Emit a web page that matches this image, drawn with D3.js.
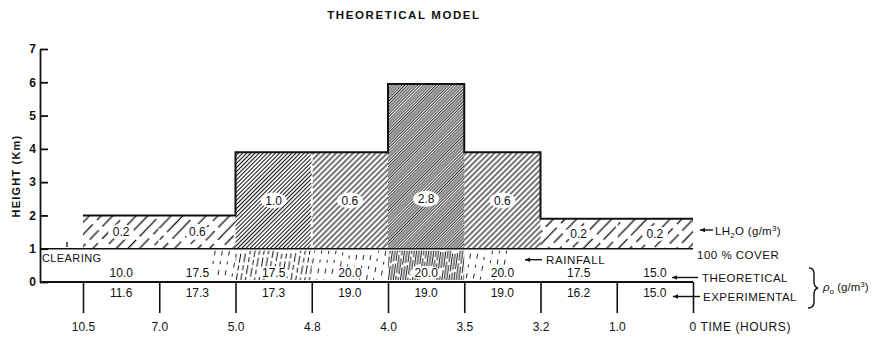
<!DOCTYPE html>
<html>
<head>
<meta charset="utf-8">
<script src="https://cdn.jsdelivr.net/npm/d3@7"></script>
<style>
  body { margin: 0; background: #fff; }
  text { font-family: "Liberation Sans", Arial, sans-serif; fill: #111; }
</style>
</head>
<body>
<div id="chart"></div>
<script>
// time axis (hours) and the 8 intervals between the ticks
const timeLabels = ["10.5", "7.0", "5.0", "4.8", "4.0", "3.5", "3.2", "1.0", "0"];
const cloudBase = 1;
const cloudTop = [2.0, 2.0, 3.9, 3.9, 5.95, 3.9, 1.9, 1.9];
const lh2o = [0.2, 0.6, 1.0, 0.6, 2.8, 0.6, 0.2, 0.2];
const rhoTheoretical = [10.0, 17.5, 17.5, 20.0, 20.0, 20.0, 17.5, 15.0];
const rhoExperimental = [11.6, 17.3, 17.3, 19.0, 19.0, 19.0, 16.2, 15.0];
// rainfall under the cloud: part of each interval covered, and how heavy
const rainFrom = [0, 0.65, 0, 0, 0, 0, 0, 0];
const rainTo = [0, 1, 1, 1, 1, 0.6, 0, 0];
const rainLevel = [0, 1, 2, 1, 3, 1, 0, 0];
const heightTicks = [0, 1, 2, 3, 4, 5, 6, 7];

const width = 879, height = 341;
const fmt = d3.format(".1f");

const svg = d3.select("#chart").append("svg")
    .attr("width", width)
    .attr("height", height);

const xScale = d3.scalePoint().domain(timeLabels).range([83, 693]);
const yScale = d3.scaleLinear().domain([0, 7]).range([282, 49]);

// hatch patterns: a few parallel lines per tile, dashes offset so gaps don't line up
const defs = svg.append("defs");
function hatch(id, spacing, angle, strokeW, dash, color) {
    const n = 5, tileH = 80;
    let p = defs.append("pattern")
        .attr("id", id)
        .attr("patternUnits", "userSpaceOnUse")
        .attr("width", spacing * n)
        .attr("height", tileH)
        .attr("patternTransform", `rotate(${angle})`);
    const offsets = [0, 31, 12, 53, 22];
    for (let k = 0; k < n; k++) {
        p.append("line")
            .attr("x1", spacing * (k + 0.5)).attr("x2", spacing * (k + 0.5))
            .attr("y1", 0).attr("y2", tileH)
            .style("stroke", color || "#111")
            .style("stroke-width", strokeW)
            .style("stroke-dasharray", dash || null)
            .style("stroke-dashoffset", offsets[k]);
    }
}
hatch("hSparse", 8.4, 44, 1.3, "24 5 13 6 26 6");
hatch("hMedium", 4.0, 45, 1.15);
hatch("hDense", 2.9, 45, 1.05);
hatch("hDark", 2.2, 45, 1.05, null, "#222");
hatch("rain1", 7, 10, 0.9, "5 6 3 6");
hatch("rain2", 4.5, 10, 1.0, "9 3 5 3");
hatch("rain3", 2.4, 8, 1.0, "16 3 18 3");

function cloudPattern(i) {
    if (cloudTop[i] < 3) return "url(#hSparse)";
    if (lh2o[i] >= 2) return "url(#hDark)";
    if (lh2o[i] >= 1) return "url(#hDense)";
    return "url(#hMedium)";
}

const segments = d3.range(cloudTop.length).map(i => ({
    i: i,
    x0: xScale(timeLabels[i]),
    x1: xScale(timeLabels[i + 1])
}));

// rainfall hatching (0 - 1 km)
svg.append("g").selectAll("rect")
    .data(segments.filter(d => rainLevel[d.i] > 0))
    .join("rect")
    .attr("x", d => d.x0 + (d.x1 - d.x0) * rainFrom[d.i])
    .attr("width", d => (d.x1 - d.x0) * (rainTo[d.i] - rainFrom[d.i]))
    .attr("y", yScale(cloudBase) + 2)
    .attr("height", yScale(0) - yScale(cloudBase) - 4)
    .style("fill", d => `url(#rain${rainLevel[d.i]})`);

// cloud columns
svg.append("g").selectAll("rect")
    .data(segments)
    .join("rect")
    .attr("x", d => d.x0)
    .attr("width", d => d.x1 - d.x0)
    .attr("y", d => yScale(cloudTop[d.i]))
    .attr("height", d => yScale(cloudBase) - yScale(cloudTop[d.i]))
    .style("fill", d => cloudPattern(d.i));

// white dashed seams where neighbouring columns have the same top
svg.append("g").selectAll("line")
    .data(segments.slice(1).filter(d => cloudTop[d.i] === cloudTop[d.i - 1]))
    .join("line")
    .attr("x1", d => d.x0).attr("x2", d => d.x0)
    .attr("y1", d => yScale(cloudTop[d.i]) + 2)
    .attr("y2", yScale(cloudBase) - 2)
    .style("stroke", "#fff")
    .style("stroke-width", 2)
    .style("stroke-dasharray", "7 4");

// cloud top outline
const profile = segments.map(d => [d.x0, yScale(cloudTop[d.i])]);
profile.push([xScale(timeLabels[timeLabels.length - 1]), yScale(cloudTop[cloudTop.length - 1])]);
svg.append("path")
    .attr("d", d3.line().curve(d3.curveStepAfter)(profile))
    .style("fill", "none")
    .style("stroke", "#111")
    .style("stroke-width", 2);

// cloud base (100 % cover)
svg.append("line")
    .attr("x1", 40).attr("x2", xScale("0"))
    .attr("y1", yScale(cloudBase)).attr("y2", yScale(cloudBase))
    .style("stroke", "#111").style("stroke-width", 1.6);

// LH2O labels
const lab = svg.append("g").selectAll("g")
    .data(segments)
    .join("g")
    .attr("transform", d => `translate(${(d.x0 + d.x1) / 2},${yScale((cloudBase + Math.min(cloudTop[d.i], 4)) / 2)})`);
lab.append("ellipse").attr("rx", 13).attr("ry", 8).style("fill", "#fff");
lab.append("text")
    .attr("text-anchor", "middle")
    .attr("dy", "0.36em")
    .style("font-size", "12px")
    .text(d => fmt(lh2o[d.i]));

// theoretical density row
const th = svg.append("g").selectAll("g")
    .data(segments)
    .join("g")
    .attr("transform", d => `translate(${(d.x0 + d.x1) / 2},${yScale(0) - 9})`);
th.append("ellipse").attr("rx", 16).attr("ry", 7).style("fill", "#fff");
th.append("text")
    .attr("text-anchor", "middle")
    .attr("dy", "0.36em")
    .style("font-size", "12px")
    .text(d => fmt(rhoTheoretical[d.i]));

// experimental density row
svg.append("g").selectAll("text")
    .data(segments)
    .join("text")
    .attr("x", d => (d.x0 + d.x1) / 2)
    .attr("y", yScale(0) + 11)
    .attr("text-anchor", "middle")
    .attr("dy", "0.36em")
    .style("font-size", "12px")
    .text(d => fmt(rhoExperimental[d.i]));

// y axis
const yAxis = d3.axisLeft(yScale)
    .tickValues(heightTicks)
    .tickFormat(d3.format("d"))
    .tickSize(-8)
    .tickSizeOuter(0)
    .tickPadding(4);
const gy = svg.append("g").attr("transform", "translate(40,0)").call(yAxis);
gy.selectAll("path, line").style("stroke", "#111").style("stroke-width", 1.8);
gy.selectAll("text").style("font-size", "12px").style("font-weight", "bold")
    .style("font-family", "Liberation Sans, Arial, sans-serif").style("fill", "#111");

// x axis
svg.append("line")
    .attr("x1", 40).attr("x2", xScale("0"))
    .attr("y1", yScale(0)).attr("y2", yScale(0))
    .style("stroke", "#111").style("stroke-width", 2);
const xAxis = d3.axisBottom(xScale).tickSize(31).tickPadding(9);
const gx = svg.append("g").attr("transform", `translate(0,${yScale(0)})`).call(xAxis);
gx.select(".domain").remove();
gx.selectAll("line").style("stroke", "#111").style("stroke-width", 1.6);
gx.selectAll("text").style("font-size", "12px")
    .style("font-family", "Liberation Sans, Arial, sans-serif").style("fill", "#111");
gx.selectAll(".tick").filter(d => d === "0").select("text")
    .attr("text-anchor", "start").attr("x", -4)
    .style("letter-spacing", "0.6px")
    .text("0  TIME (HOURS)");

// titles
svg.append("text")
    .attr("x", 404).attr("y", 19)
    .attr("text-anchor", "middle")
    .style("font-size", "11.5px").style("font-weight", "bold")
    .style("letter-spacing", "1.6px")
    .text("THEORETICAL MODEL");

svg.append("text")
    .attr("transform", "translate(20,176) rotate(-90)")
    .attr("text-anchor", "middle")
    .style("font-size", "11px").style("font-weight", "bold")
    .style("letter-spacing", "1.2px")
    .text("HEIGHT (Km)");

// annotations
function arrow(x1, x2, y) {
    svg.append("line").attr("x1", x1).attr("x2", x2).attr("y1", y).attr("y2", y)
        .style("stroke", "#111").style("stroke-width", 1.4);
    svg.append("path")
        .attr("d", `M${x1},${y} l5,-2.2 l0,4.4 z`)
        .style("fill", "#111");
}

svg.append("text").attr("x", 42).attr("y", 262)
    .style("font-size", "11px").style("letter-spacing", "0.4px").text("CLEARING");
svg.append("line").attr("x1", 67).attr("x2", 67).attr("y1", 242).attr("y2", 247)
    .style("stroke", "#111").style("stroke-width", 1.3);

arrow(525, 542, yScale(0.67));
svg.append("text").attr("x", 546).attr("y", yScale(0.67) + 4.5)
    .style("font-size", "11.5px").style("letter-spacing", "0.6px").text("RAINFALL");

const rx = xScale("0");
arrow(rx + 7, rx + 20, 230);
const lhText = svg.append("text").attr("x", rx + 22).attr("y", 234.5)
    .style("font-size", "11.5px").style("letter-spacing", "0.3px");
lhText.append("tspan").text("LH");
lhText.append("tspan").attr("dy", 3).style("font-size", "8px").text("2");
lhText.append("tspan").attr("dy", -3).text("O (g/m");
lhText.append("tspan").attr("dy", -4).style("font-size", "8px").text("3");
lhText.append("tspan").attr("dy", 4).text(")");

svg.append("text").attr("x", rx + 4).attr("y", 258.5)
    .style("font-size", "11.5px").style("letter-spacing", "0.5px").text("100 % COVER");

arrow(rx - 21, rx + 5, 277.5);
svg.append("text").attr("x", rx + 9).attr("y", 282)
    .style("font-size", "11.5px").style("letter-spacing", "0.5px").text("THEORETICAL");

arrow(rx - 20, rx + 7, 296.5);
svg.append("text").attr("x", rx + 10).attr("y", 301)
    .style("font-size", "11.5px").style("letter-spacing", "0.5px").text("EXPERIMENTAL");

// brace
svg.append("path")
    .attr("d", "M809,268 q5,0 5,6 l0,8 q0,5 4,6 q-4,1 -4,6 l0,8 q0,6 -6,6")
    .style("fill", "none").style("stroke", "#111").style("stroke-width", 1.4);

const rho = svg.append("text").attr("x", 823).attr("y", 291)
    .style("font-size", "11.5px");
rho.append("tspan").style("font-style", "italic").text("ρ");
rho.append("tspan").attr("dy", 3).style("font-size", "8px").text("o");
rho.append("tspan").attr("dy", -3).text(" (g/m");
rho.append("tspan").attr("dy", -4).style("font-size", "8px").text("3");
rho.append("tspan").attr("dy", 4).text(")");
</script>
</body>
</html>
